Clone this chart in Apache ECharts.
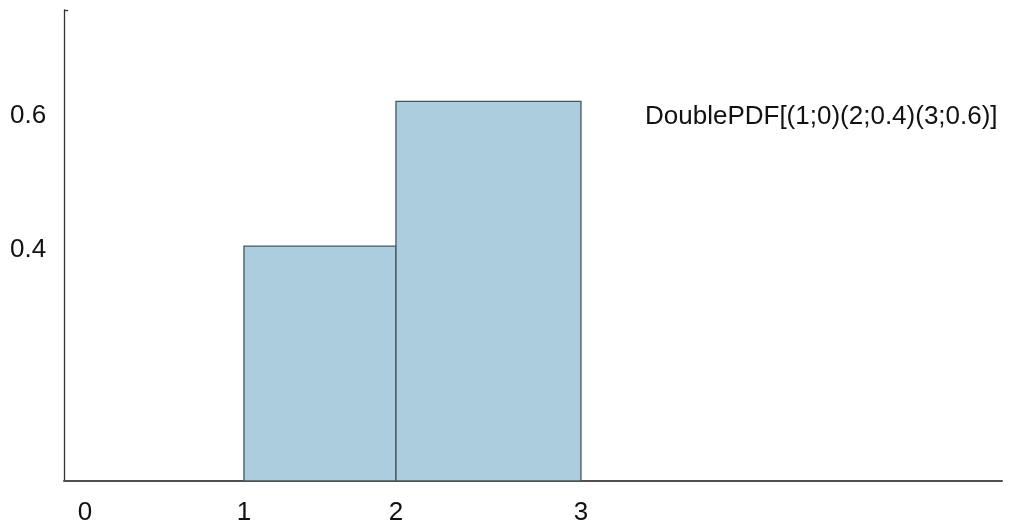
<!DOCTYPE html>
<html>
<head>
<meta charset="utf-8">
<script src="https://cdn.jsdelivr.net/npm/echarts@6/dist/echarts.min.js"></script>
<style>html,body{margin:0;padding:0;background:#fff}#c{width:1013px;height:529px}</style>
</head>
<body>
<div id="c"></div>
<script>
// Series name shown as annotation
var seriesName = 'DoublePDF[(1;0)(2;0.4)(3;0.6)]';
// Bar left/right edges (axis positions) and heights
var barLeft = [1, 2];
var barRight = [2, 3.217];
var barValues = [0.4, 0.6];
// X tick labels and their positions along the axis
var xTickLabels = ['0', '1', '2', '3'];
var xTickPos = [-0.046, 1, 2, 3.217];
// Y tick labels and their positions along the axis
var yTickLabels = ['0.4', '0.6'];
var yTickPos = [0.395, 0.58];
// Axis extents
var xMin = -0.184, xMax = 5.987;
var yMin = 0.076, yMax = 0.726;

var data = barValues.map(function (v, i) { return [barLeft[i], barRight[i], v]; });

var chart = echarts.init(document.getElementById('c'), null, {renderer: 'canvas'});
var font = 'Liberation Sans, Arial, sans-serif';
chart.setOption({
  animation: false,
  backgroundColor: '#ffffff',
  grid: {left: 64, right: 11, top: 10, bottom: 48, containLabel: false},
  legend: {
    data: [seriesName], left: 640, top: 104, padding: 0,
    icon: 'none', itemWidth: 0, itemHeight: 0, itemGap: 0,
    textStyle: {fontSize: 26, color: '#111', fontFamily: font}
  },
  xAxis: {
    type: 'value', min: xMin, max: xMax,
    splitLine: {show: false},
    axisLine: {show: true, onZero: false, lineStyle: {color: '#505050', width: 2}},
    axisTick: {show: false},
    axisLabel: {
      show: true, customValues: xTickPos, margin: 19,
      fontSize: 26, color: '#111', fontFamily: font,
      formatter: function (v) {
        var i = xTickPos.indexOf(v); return i >= 0 ? xTickLabels[i] : '';
      }
    }
  },
  yAxis: {
    type: 'value', min: yMin, max: yMax,
    splitLine: {show: false},
    axisLine: {show: true, onZero: false, lineStyle: {color: '#333', width: 1.3}},
    axisTick: {show: true, inside: true, length: 4, customValues: [yMax], lineStyle: {color: '#333', width: 1.3}},
    axisLabel: {
      show: true, customValues: yTickPos, margin: 54, align: 'left',
      fontSize: 26, color: '#111', fontFamily: font,
      formatter: function (v) {
        var i = yTickPos.indexOf(v); return i >= 0 ? yTickLabels[i] : '';
      }
    }
  },
  series: [{
    name: seriesName,
    type: 'custom',
    data: data,
    encode: {x: [0, 1], y: 2},
    itemStyle: {color: '#abcddd'},
    renderItem: function (params, api) {
      var p0 = api.coord([api.value(0), api.value(2)]);
      var p1 = api.coord([api.value(1), yMin]);
      return {
        type: 'rect',
        shape: {x: p0[0], y: p0[1], width: p1[0] - p0[0], height: p1[1] - p0[1]},
        style: {fill: '#abcddd', stroke: '#48535a', lineWidth: 1.3}
      };
    }
  }]
});
</script>
</body>
</html>
